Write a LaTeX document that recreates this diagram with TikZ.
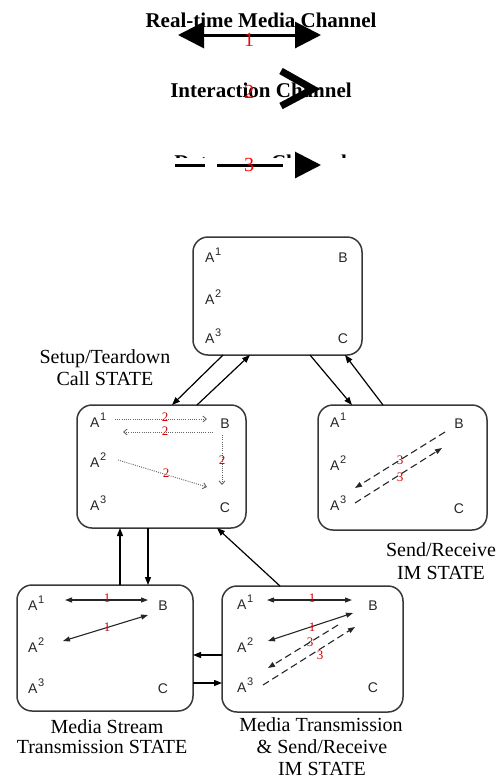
\documentclass[tikz,border=0pt]{standalone}
\usepackage{fontspec}
\setmainfont{Liberation Serif}
\newfontfamily\labfont{Liberation Sans}
\usetikzlibrary{arrows.meta,calc}
\newcommand\Asup[1]{A\kern0.6pt\raisebox{6.5pt}{\fontsize{11}{11}\selectfont #1}}
\begin{document}
\begin{tikzpicture}[x=1pt,y=-1pt,
  statebox/.style={draw=black!78, line width=1.5pt, rounded corners=15pt, inner sep=0pt, outer sep=0pt},
  conn/.style={line width=1.2pt, -{Triangle[length=8pt,width=6pt]}},
  lblA/.style={anchor=base west, inner sep=0pt, font=\labfont\fontsize{14}{14}\selectfont, text=black!85},
  lblB/.style={anchor=base, inner sep=0pt, font=\labfont\fontsize{14}{14}\selectfont, text=black!85},
  rednum/.style={text=red!85!black, font=\fontsize{13}{13}\selectfont, inner sep=0pt},
  dotarrow/.style={draw=black!60, line width=0.9pt, dash pattern=on 1pt off 1.2pt, -{Straight Barb[length=3.5pt,width=6pt]}},
  medarrow/.style={line width=1.1pt, draw=black!85, {Triangle[length=7pt,width=5pt]}-{Triangle[length=7pt,width=5pt]}},
  imarrow/.style={line width=1.1pt, draw=black!85, dash pattern=on 7pt off 4pt, -{Triangle[length=7pt,width=5pt]}},
  statelbl/.style={anchor=base, inner sep=0pt, font=\fontsize{20}{21}\selectfont},
  legtext/.style={anchor=base, inner sep=0pt, font=\bfseries\fontsize{21}{21}\selectfont},
  legnum/.style={text=red, font=\fontsize{20}{20}\selectfont, inner sep=0pt},
  bigtips/.style={line width=3pt}
]
\useasboundingbox (0,0) rectangle (499,780);

% ---------- legend ----------
\node[legtext] (leg1) at (261,27) {Real-time Media Channel};
\coordinate (l1a) at (178,35);
\coordinate (l1b) at (321,35);
\draw[bigtips, {Triangle[length=26pt,width=26pt]}-{Triangle[length=26pt,width=26pt]}] (l1a) -- (l1b);
\node[legnum] (n1) at (249,40) {1};

\node[legtext] (leg2) at (261,97) {Interaction Channel};
\node[legnum] (n2) at (249,92) {2};
\coordinate (c1) at (281,71);
\coordinate (c2) at (313,89);
\coordinate (c3) at (281,106);
\draw[line width=7pt] (c1) -- (c2) -- (c3);

\node[legtext] (leg3a) at (196,169) {Data};
\node[legtext] (leg3b) at (309,169) {Channel};
\fill[white] (165,158) rectangle (360,186);
\coordinate (d1) at (175,165);
\coordinate (d2) at (321,165);
\draw[bigtips, dash pattern=on 30pt off 12pt on 66pt off 12pt, -{Triangle[length=26pt,width=26pt]}] (d1) -- (d2);
\node[legnum] (n3) at (249,165) {3};

% ---------- state boxes ----------
\node[statebox, minimum width=169pt, minimum height=118pt] (top) at (277.5,296) {};
\node[statebox, minimum width=169pt, minimum height=123pt] (ml) at (161.5,466.5) {};
\node[statebox, minimum width=169pt, minimum height=125pt] (rt) at (402.5,467.5) {};
\node[statebox, minimum width=176pt, minimum height=126pt] (bl) at (105,648) {};
\node[statebox, minimum width=181pt, minimum height=126pt] (br) at (312.5,649) {};

% labels top
\node[lblA] (ta1) at (205,262) {\Asup{1}};
\node[lblA] (ta2) at (205,304) {\Asup{2}};
\node[lblA] (ta3) at (205,343) {\Asup{3}};
\node[lblB] (tb) at (343,262) {B};
\node[lblB] (tc) at (343,343) {C};
% labels ml
\node[lblA] (ma1) at (90,427) {\Asup{1}};
\node[lblA] (ma2) at (90,467) {\Asup{2}};
\node[lblA] (ma3) at (90,510) {\Asup{3}};
\node[lblB] (mb) at (225,428) {B};
\node[lblB] (mc) at (225,512) {C};
% labels rt
\node[lblA] (ra1) at (330,427) {\Asup{1}};
\node[lblA] (ra2) at (330,470) {\Asup{2}};
\node[lblA] (ra3) at (330,510) {\Asup{3}};
\node[lblB] (rb) at (459,428) {B};
\node[lblB] (rc) at (459,513) {C};
% labels bl
\node[lblA] (la1) at (28,610) {\Asup{1}};
\node[lblA] (la2) at (28,652) {\Asup{2}};
\node[lblA] (la3) at (28,693) {\Asup{3}};
\node[lblB] (lb) at (163,610) {B};
\node[lblB] (lc) at (163,693) {C};
% labels br
\node[lblA] (ka1) at (237,609) {\Asup{1}};
\node[lblA] (ka2) at (237,652) {\Asup{2}};
\node[lblA] (ka3) at (237,692) {\Asup{3}};
\node[lblB] (kb) at (373,610) {B};
\node[lblB] (kc) at (373,692) {C};

% ---------- connectors between states ----------
\draw[conn] ($(top.south west)+(30,0)$) -- ($(ml.north west)+(95,0)$);
\draw[conn] ($(ml.north west)+(120,0)$) -- ($(top.south west)+(57,0)$);
\draw[conn] ($(top.south west)+(117,0)$) -- ($(rt.north west)+(34,0)$);
\draw[conn] ($(rt.north west)+(65,0)$) -- ($(top.south west)+(152,0)$);
\draw[conn] ($(bl.north west)+(103,0)$) -- ($(ml.south west)+(43,0)$);
\draw[conn] ($(ml.south west)+(71,0)$) -- ($(bl.north west)+(131,0)$);
\draw[conn] ($(br.north west)+(58,0)$) -- ($(ml.south west)+(140,0)$);
\draw[conn] ($(br.north west)+(0,69)$) -- ($(bl.north east)+(0,70)$);
\draw[conn] ($(bl.north east)+(0,98)$) -- ($(br.north west)+(0,97)$);

% ---------- inner arrows: setup/teardown ----------
\draw[dotarrow] ($(ml.north west)+(38,14)$) -- ($(ml.north west)+(130,14)$);
\draw[dotarrow] ($(ml.north west)+(136,27)$) -- ($(ml.north west)+(46,27)$);
\draw[dotarrow] ($(ml.north west)+(41,55)$) -- ($(ml.north west)+(130,82)$);
\draw[dotarrow] ($(ml.north west)+(145,30)$) -- ($(ml.north west)+(145,80)$);
\node[rednum] (m2a) at ($(ml.north west)+(88,12)$) {2};
\node[rednum] (m2b) at ($(ml.north west)+(88,26)$) {2};
\node[rednum] (m2c) at ($(ml.north west)+(89,68)$) {2};
\node[rednum] (m2d) at ($(ml.north west)+(145,55)$) {2};

% ---------- inner arrows: IM ----------
\draw[imarrow] ($(rt.north west)+(37,98)$) -- ($(rt.north west)+(124,43)$);
\draw[imarrow] ($(rt.north west)+(127,27)$) -- ($(rt.north west)+(37,83)$);
\node[rednum] (r3a) at ($(rt.north west)+(82,55)$) {3};
\node[rednum] (r3b) at ($(rt.north west)+(82,72)$) {3};

% ---------- inner arrows: media ----------
\draw[medarrow] ($(bl.north west)+(48,15)$) -- ($(bl.north west)+(131,15)$);
\draw[medarrow] ($(bl.north west)+(46,56)$) -- ($(bl.north west)+(131,30)$);
\node[rednum] (l1a') at ($(bl.north west)+(90,13)$) {1};
\node[rednum] (l1b') at ($(bl.north west)+(90,42)$) {1};

% ---------- inner arrows: media + IM ----------
\draw[medarrow] ($(br.north west)+(45,14)$) -- ($(br.north west)+(130,14)$);
\draw[medarrow] ($(br.north west)+(46,55)$) -- ($(br.north west)+(131,27)$);
\draw[imarrow] ($(br.north west)+(116,39)$) -- ($(br.north west)+(46,82)$);
\draw[imarrow] ($(br.north west)+(41,99)$) -- ($(br.north west)+(133,41)$);
\node[rednum] (k1a) at ($(br.north west)+(90,12)$) {1};
\node[rednum] (k1b) at ($(br.north west)+(90,41)$) {1};
\node[rednum] (k3a) at ($(br.north west)+(88,56)$) {3};
\node[rednum] (k3b) at ($(br.north west)+(98,69)$) {3};

% ---------- state labels ----------
\node[statelbl] (s1a) at (105,363) {Setup/Teardown};
\node[statelbl] (s1b) at (105,385) {Call STATE};
\node[statelbl] (s2a) at (441,556) {Send/Receive};
\node[statelbl] (s2b) at (441,579) {IM STATE};
\node[statelbl] (s3a) at (107,733) {Media Stream};
\node[statelbl] (s3b) at (102,753) {Transmission STATE};
\node[statelbl] (s4a) at (321,731) {Media Transmission};
\node[statelbl] (s4b) at (322,753) {\& Send/Receive};
\node[statelbl] (s4c) at (322,775) {IM STATE};
\end{tikzpicture}
\end{document}
